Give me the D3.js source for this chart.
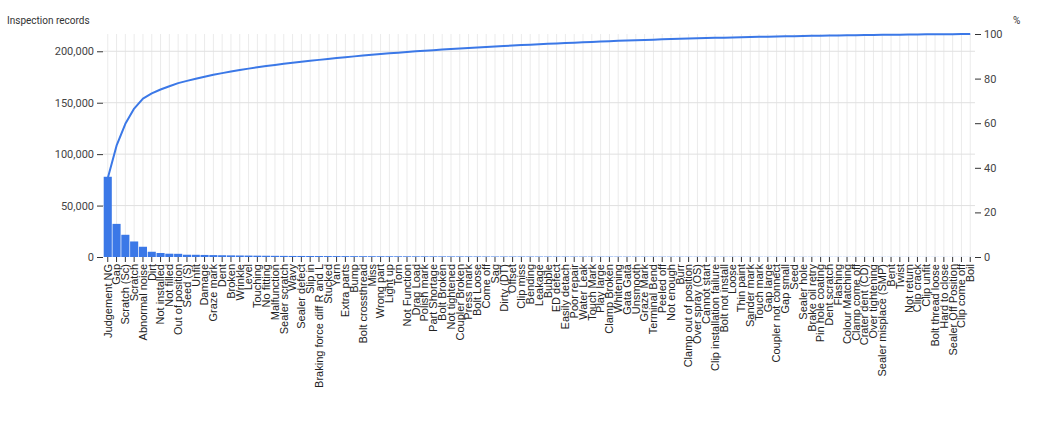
<!DOCTYPE html>
<html>
<head>
<meta charset="utf-8">
<script src="https://cdn.jsdelivr.net/npm/d3@7/dist/d3.min.js"></script>
<style>
  body { margin: 0; background: #fff; }
  svg text { font-family: Roboto, "Liberation Sans", sans-serif; }
</style>
</head>
<body>
<svg id="viz" width="1038" height="430"></svg>
<script>
const categories = [
  "Judgement NG","Gap","Scratch (Sc)","Scratch","Abnormal noise","Dirt","Not installed","Not filled",
  "Out of position","Seed (S)","Unfit","Damage","Graze mark","Dent","Broken","Wrinkle","Level",
  "Touching","No fitting","Malfunction","Sealer scratch","Wavy","Sealer defect","Slip in",
  "Braking force diff R and L","Stucked","Yarn","Extra parts","Bump","Bolt crossthread","Miss",
  "Wrong part","Light up","Torn","Not Function","Drag Load","Polish mark","Part Shortage",
  "Bolt Broken","Not tightened","Coupler Broken","Press mark","Bolt Loose","Come off","Sag",
  "Dirty (DT)","Offset","Clip miss","Bending","Leakage","Bubble","ED defect","Easily detach",
  "Poor repair","Water Leak","Touch Mark","Play large","Clamp Broken","Whitening","Gata Gata",
  "Unsmooth","Graze Mark","Terminal Bend","Peeled off","Not enough","Burr","Clamp out of position",
  "Over spray (OS)","Cannot start","Clip installation failure","Bolt not install","Loose",
  "Thin paint","Sander mark","Touch mark","Gap large","Coupler not connect","Gap small","Seed",
  "Sealer hole","Brake oil retry","Pin hole coating","Dent scratch","Flashing","Colour Matching",
  "Clamp come off","Crater dent (CD)","Over tightening","Sealer misplace (SMP)","Bent","Twist",
  "Not return","Clip crack","Clip unfit","Bolt thread loose","Hard to close","Sealer Off Position",
  "Clip come off","Boil"
];

const records = [
  78000, 32200, 21600, 15100, 9950, 5100, 3900, 3200, 3100, 2200,
  2150, 2000, 1850, 1700, 1580, 1470, 1380, 1300, 1220, 1150, 1080, 1010,
  1000, 970, 940, 910, 880, 850, 820, 790, 760, 730,
  700, 680, 660, 640, 620, 600, 580, 560, 540, 520,
  500, 480, 470, 460, 450, 440, 430, 420, 410, 400,
  390, 380, 370, 360, 350, 340, 330, 320, 310, 300,
  290, 280, 270, 260, 250, 240, 230, 220, 210, 200, 195, 190, 185, 180, 175, 170, 165, 160,
  150, 145, 140, 135, 130, 125, 120, 115, 110, 105, 100, 95, 90, 85, 80, 75, 70, 65, 60
];

const leftTicks = [0, 50000, 100000, 150000, 200000];
const rightTicks = [0, 20, 40, 60, 80, 100];
const leftMax = 216800;

const svg = d3.select("#viz");
const margin = {top: 34, right: 63, bottom: 173, left: 103};
const W = +svg.attr("width"), H = +svg.attr("height");
const innerW = W - margin.left - margin.right;
const innerH = H - margin.top - margin.bottom;
const g = svg.append("g").attr("transform", `translate(${margin.left},${margin.top})`);

const total = d3.sum(records);
let run = 0;
const cumulative = records.map(v => (run += v) / total * 100);

const x = d3.scaleBand().domain(categories).range([0, innerW]).padding(0.08);
const y = d3.scaleLinear().domain([0, leftMax]).range([innerH, 0]);
const yPct = d3.scaleLinear().domain([0, 100]).range([innerH, 0]);
const cx = d => x(d) + x.bandwidth() / 2;

// grid
g.append("g").selectAll("line").data(categories).join("line")
  .attr("x1", cx).attr("x2", cx).attr("y1", 0).attr("y2", innerH)
  .attr("stroke", "#ebebeb").attr("stroke-width", 1);
g.append("g").selectAll("line").data(leftTicks.slice(1)).join("line")
  .attr("x1", 0).attr("x2", innerW).attr("y1", d => y(d)).attr("y2", d => y(d))
  .attr("stroke", "#e0e0e0").attr("stroke-width", 1);

// bars
g.append("g").selectAll("rect").data(records).join("rect")
  .attr("x", (d, i) => x(categories[i]))
  .attr("width", x.bandwidth())
  .attr("y", d => y(d))
  .attr("height", d => innerH - y(d))
  .attr("fill", "#3b78e7");

// cumulative line
const line = d3.line().x((d, i) => cx(categories[i])).y(d => yPct(d));
g.append("path").datum(cumulative)
  .attr("d", line).attr("fill", "none")
  .attr("stroke", "#3b78e7").attr("stroke-width", 2).attr("stroke-linejoin", "round");

// axes
const axisStyle = sel => {
  sel.select(".domain").remove();
  sel.selectAll(".tick line").attr("stroke", "#333");
  sel.selectAll(".tick text").attr("fill", "#444").style("font-size", "11px");
};

g.append("g")
  .call(d3.axisLeft(y).tickValues(leftTicks).tickSize(6).tickPadding(3).tickFormat(d3.format(",")))
  .call(axisStyle);

g.append("g").attr("transform", `translate(${innerW},0)`)
  .call(d3.axisRight(yPct).tickValues(rightTicks).tickSize(6).tickPadding(3))
  .call(axisStyle);

const xAxis = g.append("g").attr("transform", `translate(0,${innerH})`)
  .call(d3.axisBottom(x).tickSize(5).tickPadding(2));
xAxis.select(".domain").remove();
xAxis.selectAll(".tick line").attr("stroke", "#333");
xAxis.selectAll(".tick text")
  .attr("fill", "#222")
  .style("font-size", "11px")
  .style("font-family", "'Liberation Sans', Arial, sans-serif")
  .attr("text-anchor", "end")
  .attr("transform", "rotate(-90)")
  .attr("x", -7).attr("y", 0).attr("dy", "0.35em");

// axis titles
svg.append("text").attr("x", 7).attr("y", 24)
  .attr("fill", "#333").style("font-size", "10px").text("Inspection records");
svg.append("text").attr("x", 1013).attr("y", 24)
  .attr("fill", "#333").style("font-size", "10px").text("%");
</script>
</body>
</html>
